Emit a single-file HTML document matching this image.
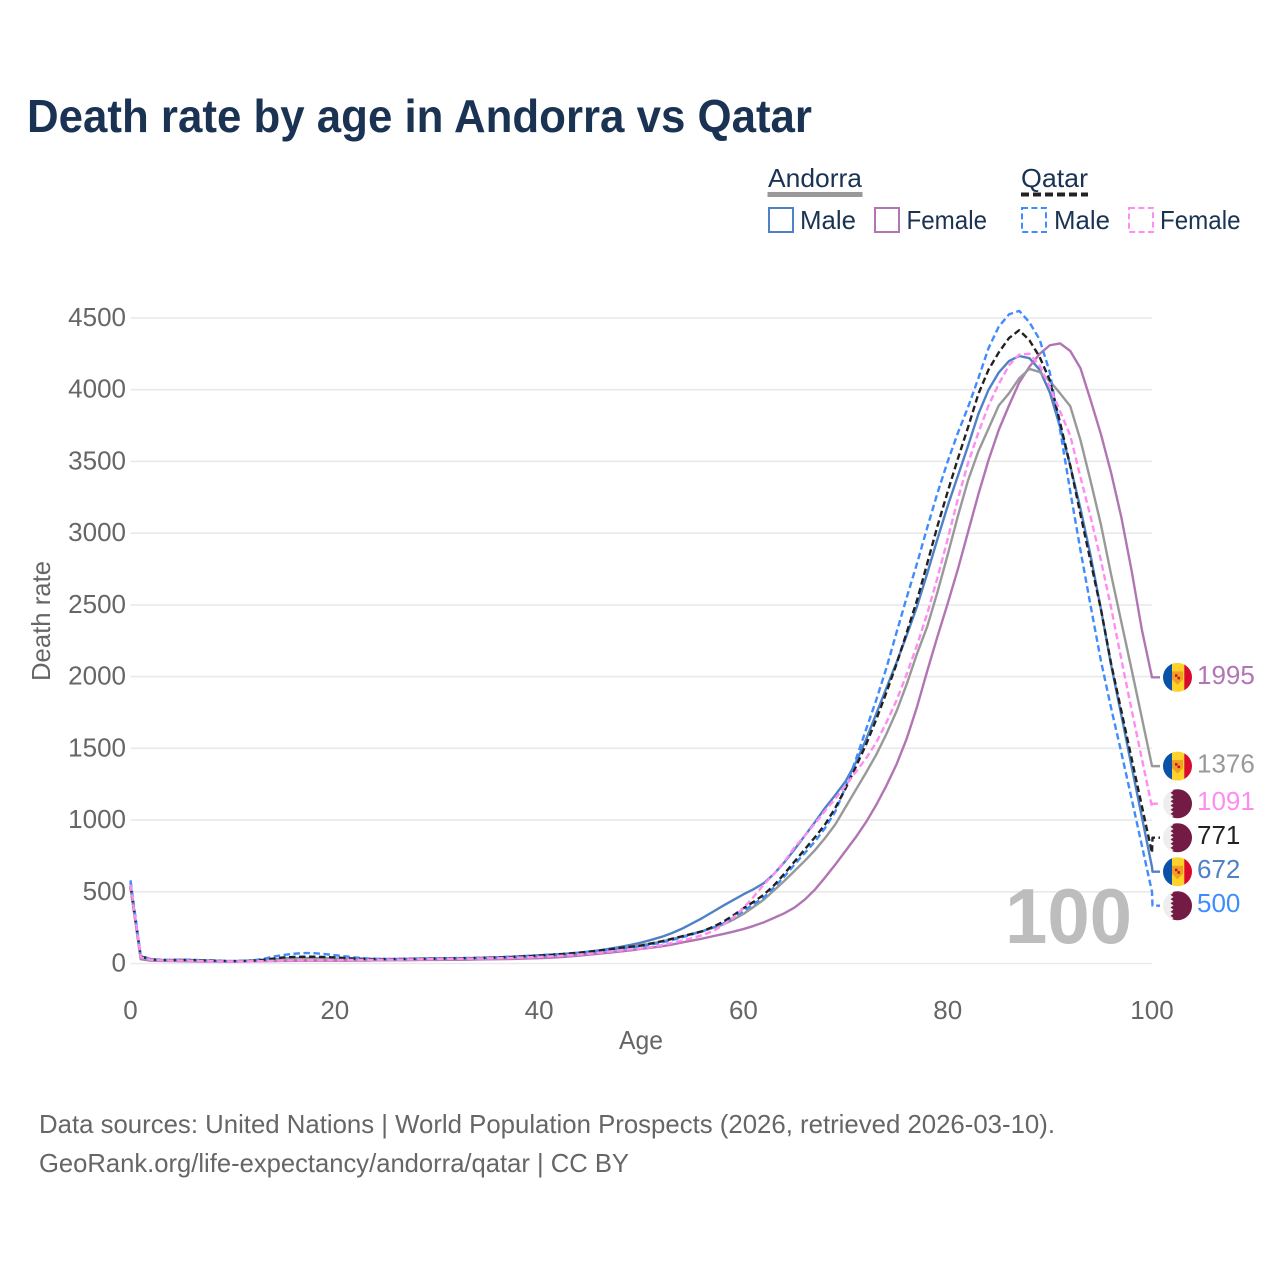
<!DOCTYPE html>
<html lang="en">
<head>
<meta charset="utf-8">
<title>Death rate by age in Andorra vs Qatar</title>
<style>
html,body{margin:0;padding:0;background:#fff}
svg{display:block;font-family:"Liberation Sans",sans-serif}
</style>
</head>
<body>
<svg id="chart" xmlns="http://www.w3.org/2000/svg" width="1280" height="1280" viewBox="0 0 1280 1280">
  <defs>
    <clipPath id="flag-clip"><circle cx="0" cy="0" r="14.5"/></clipPath>
    <g id="flag-andorra">
      <g clip-path="url(#flag-clip)">
        <rect x="-15" y="-15" width="10" height="30" fill="#0a52a8"/>
        <rect x="-5.5" y="-15" width="13" height="30" fill="#fdd22b"/>
        <rect x="6.8" y="-15" width="9" height="30" fill="#d80b2e"/>
        <path d="M-5.5,-6 L5.5,-6 L5.5,2 L0,7.5 L-5.5,2 Z" fill="#f0a020"/>
        <rect x="-2.5" y="-3" width="2.5" height="2.5" fill="#c8102e"/>
        <rect x="0" y="-0.5" width="2.5" height="2.5" fill="#c8102e"/>
      </g>
    </g>
    <g id="flag-qatar">
      <g clip-path="url(#flag-clip)">
        <rect x="-15" y="-15" width="30" height="30" fill="#eeeeee"/>
        <path d="M15,-15 L-7,-15 L-4,-12.9 L-7,-10.8 L-4,-8.7 L-7,-6.6 L-4,-4.5 L-7,-2.4 L-4,-0.3 L-7,1.8 L-4,3.9 L-7,6 L-4,8.1 L-7,10.2 L-4,12.3 L-7,15 L15,15 Z" fill="#741b45"/>
      </g>
    </g>
  </defs>

  <text x="27" y="132" font-size="46" font-weight="700" fill="#1a3353" textLength="785" lengthAdjust="spacingAndGlyphs">Death rate by age in Andorra vs Qatar</text>

  <g font-size="26" fill="#1a3353">
    <text x="768" y="187" textLength="94" lengthAdjust="spacingAndGlyphs">Andorra</text>
    <rect x="767.5" y="192" width="95" height="5" fill="#999999"/>
    <text x="1021" y="187" textLength="67" lengthAdjust="spacingAndGlyphs">Qatar</text>
    <line x1="1021" y1="194.5" x2="1088" y2="194.5" stroke="#222222" stroke-width="4" stroke-dasharray="8 4"/>
    <rect x="769" y="208" width="24" height="24" fill="none" stroke="#4f81c7" stroke-width="2"/>
    <text x="800" y="229" textLength="56" lengthAdjust="spacingAndGlyphs">Male</text>
    <rect x="875" y="208" width="24" height="24" fill="none" stroke="#b275b3" stroke-width="2"/>
    <text x="906.5" y="229" textLength="80.5" lengthAdjust="spacingAndGlyphs">Female</text>
    <rect x="1022" y="208" width="24" height="24" fill="none" stroke="#3f8cff" stroke-width="2" stroke-dasharray="6 3.4"/>
    <text x="1054" y="229" textLength="56" lengthAdjust="spacingAndGlyphs">Male</text>
    <rect x="1129" y="208" width="24" height="24" fill="none" stroke="#ff8cf0" stroke-width="2" stroke-dasharray="6 3.4"/>
    <text x="1160" y="229" textLength="80.5" lengthAdjust="spacingAndGlyphs">Female</text>
  </g>

  <g id="grid"></g>
  <g id="yticks" font-size="26" fill="#666666" text-anchor="end"></g>
  <g id="xticks" font-size="26" fill="#666666" text-anchor="middle"></g>

  <text transform="translate(50,621) rotate(-90)" font-size="26" fill="#666666" text-anchor="middle" textLength="120" lengthAdjust="spacingAndGlyphs">Death rate</text>
  <text x="641" y="1049" font-size="26" fill="#666666" text-anchor="middle" textLength="44" lengthAdjust="spacingAndGlyphs">Age</text>

  <text x="1005" y="943" font-size="78" font-weight="700" fill="#bdbdbd" textLength="127" lengthAdjust="spacingAndGlyphs">100</text>

  <g id="series"></g>
  <g id="labels"></g>

  <text x="39" y="1133" font-size="26" fill="#666666" textLength="1016" lengthAdjust="spacingAndGlyphs">Data sources: United Nations | World Population Prospects (2026, retrieved 2026-03-10).</text>
  <text x="39" y="1172" font-size="26" fill="#666666" textLength="590" lengthAdjust="spacingAndGlyphs">GeoRank.org/life-expectancy/andorra/qatar | CC BY</text>
</svg>

<script>
const yTickValues = [0, 500, 1000, 1500, 2000, 2500, 3000, 3500, 4000, 4500];
const xTickValues = [0, 20, 40, 60, 80, 100];

const andorraTotal = [
  540,38,24,22,21,20,19,18,17,16,16,17,18,20,24,29,32,33,33,32,
  31,30,29,28,28,27,27,28,28,29,30,31,32,33,34,35,37,39,42,45,
  50,54,59,64,71,79,88,98,108,118,128,140,154,170,188,207,226,248,272,305,
  345,395,445,510,575,645,715,790,875,970,1090,1210,1330,1455,1600,1760,1950,2160,2350,2590,
  2850,3120,3370,3570,3730,3890,3975,4080,4145,4124,4060,3975,3885,3648,3360,3060,2710,2380,2050,1715,
  1376
];
const andorraMale = [
  560,35,22,20,19,18,17,16,15,15,15,16,18,22,28,35,38,38,37,36,
  34,32,30,28,28,27,27,28,28,29,30,31,32,33,34,36,38,41,44,48,
  53,58,63,68,75,84,93,104,116,130,146,165,186,212,243,280,318,360,402,442,
  482,518,560,625,705,795,890,985,1085,1175,1270,1400,1560,1740,1920,2100,2290,2490,2720,2960,
  3190,3400,3610,3830,4000,4120,4200,4235,4220,4140,3980,3740,3470,3170,2840,2470,2080,1730,1375,1025,
  672
];
const andorraFemale = [
  530,30,20,18,17,16,15,14,14,13,13,14,15,16,17,18,19,20,20,20,
  20,20,21,21,22,22,23,23,24,25,25,26,26,27,28,29,30,31,33,35,
  37,40,44,49,55,62,69,76,84,92,102,110,120,132,147,160,174,190,205,222,
  240,262,287,318,350,390,445,515,600,690,785,880,985,1105,1240,1390,1570,1790,2040,2280,
  2510,2750,3010,3270,3510,3720,3890,4050,4160,4250,4310,4323,4270,4150,3925,3690,3420,3110,2740,2330,
  1995
];
const qatarTotal = [
  540,50,28,24,24,25,24,22,20,18,17,18,20,26,34,42,46,47,47,45,
  42,38,34,32,31,31,31,32,33,34,34,35,36,37,38,40,42,45,48,52,
  56,60,65,70,76,83,91,100,110,117,125,140,155,172,190,207,225,255,290,335,
  385,430,480,545,625,710,795,880,970,1085,1220,1370,1525,1700,1890,2090,2310,2533,2790,3050,
  3290,3520,3740,3970,4140,4260,4360,4415,4345,4228,4066,3770,3470,3130,2800,2470,2090,1760,1430,1100,
  771
];
const qatarMale = [
  580,55,30,26,26,27,26,23,20,18,17,18,22,32,48,60,68,73,72,66,
  58,50,42,36,33,32,32,33,34,35,36,37,38,39,40,42,44,47,50,54,
  58,62,66,70,76,82,88,95,103,111,120,132,146,163,182,203,226,250,278,320,
  365,415,460,530,605,690,770,850,945,1060,1230,1420,1630,1836,2060,2310,2555,2790,3040,3280,
  3500,3700,3880,4080,4290,4440,4525,4550,4470,4350,4120,3720,3290,2880,2490,2110,1780,1470,1150,825,
  500
];
const qatarFemale = [
  550,45,26,22,21,21,20,18,16,15,15,15,16,17,19,21,22,23,23,24,
  24,25,25,26,26,27,27,28,29,30,31,32,33,34,35,36,37,39,41,43,
  46,49,53,58,63,69,76,84,92,100,105,115,128,143,160,178,198,225,268,320,
  386,465,550,625,710,810,890,975,1065,1150,1240,1335,1430,1540,1680,1836,2020,2220,2440,2690,
  2960,3240,3490,3700,3890,4040,4170,4245,4250,4170,4020,3850,3680,3390,3110,2810,2480,2120,1770,1430,
  1091
];

const SVGNS = 'http://www.w3.org/2000/svg';
const plotLeft = 130.5, plotRight = 1152, plotBottom = 963.5, plotTop = 318;
function xScale(age) { return plotLeft + (age / 100) * (plotRight - plotLeft); }
function yScale(value) { return plotBottom - (value / 4500) * (plotBottom - plotTop); }
function make(tag, attrs) {
  const el = document.createElementNS(SVGNS, tag);
  for (const k in attrs) el.setAttribute(k, attrs[k]);
  return el;
}

const gridGroup = document.getElementById('grid');
const yTickGroup = document.getElementById('yticks');
const xTickGroup = document.getElementById('xticks');
yTickValues.forEach(function (v) {
  const g = make('line', { x1: plotLeft, x2: plotRight, y1: yScale(v), y2: yScale(v), stroke: '#e9e9e9', 'stroke-width': 1.6 });
  
  
  gridGroup.appendChild(g);
  const t = make('text', { x: 126, y: yScale(v) + 8 });
  
  
  t.textContent = v;
  yTickGroup.appendChild(t);
});
xTickValues.forEach(function (v) {
  const t = make('text', { x: xScale(v), y: 1019 });
  
  
  t.textContent = v;
  xTickGroup.appendChild(t);
});

const seriesList = [
  { key: 'andorra-male', values: andorraMale, color: '#4f81c7', dash: '', flag: 'flag-andorra' },
  { key: 'andorra-female', values: andorraFemale, color: '#b275b3', dash: '', flag: 'flag-andorra' },
  { key: 'andorra-total', values: andorraTotal, color: '#999999', dash: '', flag: 'flag-andorra' },
  { key: 'qatar-male', values: qatarMale, color: '#3f8cff', dash: '6.5 3.5', flag: 'flag-qatar' },
  { key: 'qatar-total', values: qatarTotal, color: '#222222', dash: '6.5 3.5', flag: 'flag-qatar' },
  { key: 'qatar-female', values: qatarFemale, color: '#ff8cf0', dash: '6.5 3.5', flag: 'flag-qatar' }
];

/* spread the end labels so they keep a minimum gap, centring each crowded cluster */
const labelGap = 34;
const ordered = seriesList.slice().sort(function (a, b) {
  return yScale(a.values[100]) - yScale(b.values[100]);
});
let clusters = ordered.map(function (s) { return { items: [s], mean: yScale(s.values[100]) }; });
let merged = true;
while (merged) {
  merged = false;
  for (let i = 0; i < clusters.length - 1; i++) {
    const a = clusters[i], b = clusters[i + 1];
    const aEnd = a.mean + (a.items.length - 1) * labelGap / 2;
    const bStart = b.mean - (b.items.length - 1) * labelGap / 2;
    if (bStart - aEnd < labelGap) {
      const items = a.items.concat(b.items);
      const sum = items.reduce(function (acc, s) { return acc + yScale(s.values[100]); }, 0);
      clusters.splice(i, 2, { items: items, mean: sum / items.length });
      merged = true;
      break;
    }
  }
}
clusters.forEach(function (c) {
  c.items.forEach(function (s, i) {
    s.labelY = c.mean + (i - (c.items.length - 1) / 2) * labelGap;
  });
});

const seriesGroup = document.getElementById('series');
const labelGroup = document.getElementById('labels');
seriesList.forEach(function (s) {
  const pts = s.values.map(function (v, age) { return xScale(age).toFixed(2) + ',' + yScale(v).toFixed(2); });
  pts.push((plotRight + 0.5) + ',' + s.labelY.toFixed(2));
  pts.push('1160,' + s.labelY.toFixed(2));
  const line = make('polyline', { points: pts.join(' '), fill: 'none', stroke: s.color, 'stroke-width': 2.4, 'stroke-linejoin': 'round' });
  if (s.dash) line.setAttribute('stroke-dasharray', s.dash);
  
  
  seriesGroup.appendChild(line);

  const flag = make('use', { href: '#' + s.flag, transform: 'translate(1177.5,' + s.labelY.toFixed(2) + ')' });
  
  
  labelGroup.appendChild(flag);

  const txt = make('text', { x: 1197, y: s.labelY + 6.5, 'font-size': 26, fill: s.color });
  
  
  txt.textContent = s.values[100];
  labelGroup.appendChild(txt);
});
</script>
</body>
</html>
